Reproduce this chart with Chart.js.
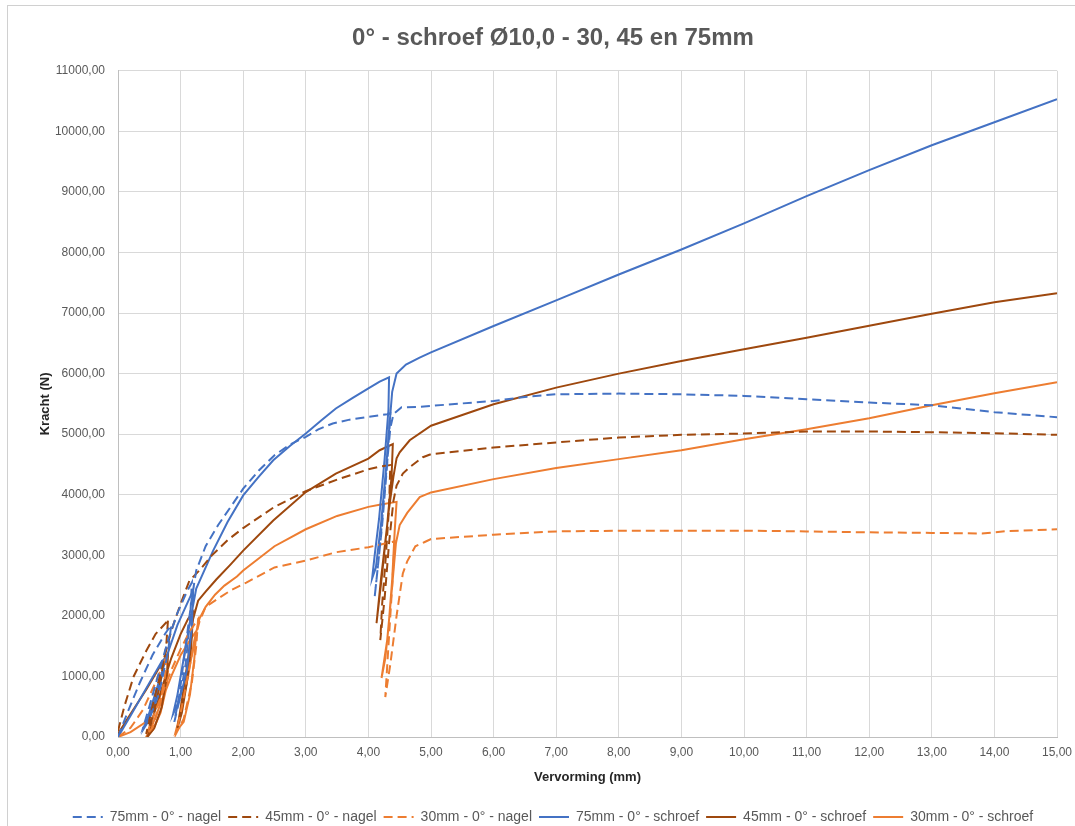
<!DOCTYPE html>
<html>
<head>
<meta charset="utf-8">
<script src="https://cdn.jsdelivr.net/npm/chart.js@4"></script>
<style>
  html, body { margin: 0; padding: 0; background: #fff; overflow: hidden; }
  #frame { position: absolute; left: 7px; top: 5px; width: 1200px; height: 1000px; border: 1px solid #d0d0d0; }
  #wrap { position: absolute; left: 0; top: 0; width: 1075px; height: 838px; }
</style>
</head>
<body>
<div id="frame"></div>
<div id="wrap"><canvas id="grafico"></canvas></div>
<script>
// vervorming (mm) / kracht (N)
const nagel75X = [0, 0.15, 0.35, 0.55, 0.75, 0.85, 0.8, 0.65, 0.5, 0.4, 0.5, 0.65, 0.8, 0.95, 1.1, 1.18, 1.15, 1.08, 0.98, 0.9, 0.98, 1.08, 1.18, 1.25, 1.4, 1.6, 1.8, 2.0, 2.25, 2.5, 2.75, 3.0, 3.2, 3.43, 3.7, 4.0, 4.3, 4.35, 4.3, 4.22, 4.14, 4.1, 4.18, 4.27, 4.35, 4.4, 4.53, 4.8, 5, 6, 6.5, 7, 8, 9, 10, 11, 12, 13, 14, 15];
const nagel75Y = [0, 400, 900, 1350, 1700, 1850, 1400, 700, 300, 150, 500, 1050, 1600, 2050, 2400, 2550, 1900, 1200, 600, 250, 700, 1500, 2300, 2750, 3150, 3500, 3800, 4100, 4400, 4652, 4830, 4956, 5080, 5177, 5240, 5287, 5330, 5346, 4500, 3500, 2700, 2310, 3100, 4200, 5100, 5330, 5445, 5450, 5467, 5549, 5615, 5659, 5670, 5659, 5632, 5577, 5522, 5478, 5363, 5280];

const nagel45X = [0, 0.1, 0.25, 0.45, 0.6, 0.77, 0.8, 0.77, 0.66, 0.54, 0.45, 0.55, 0.7, 0.85, 1.0, 1.14, 1.3, 1.5, 1.75, 2, 2.5, 3, 3.5, 4, 4.2, 4.35, 4.33, 4.28, 4.22, 4.19, 4.26, 4.33, 4.4, 4.45, 4.55, 4.66, 4.87, 5, 6, 7, 8, 9, 10, 11, 12, 13, 14, 15];
const nagel45Y = [100, 500, 1000, 1420, 1700, 1890, 1950, 1500, 800, 300, 50, 500, 1150, 1750, 2200, 2580, 2750, 3000, 3250, 3450, 3800, 4060, 4250, 4420, 4470, 4490, 3800, 3000, 2200, 1600, 2300, 3200, 3900, 4150, 4350, 4455, 4620, 4670, 4780, 4863, 4945, 4989, 5011, 5044, 5044, 5032, 5016, 4990];

const nagel30X = [0, 0.2, 0.4, 0.6, 0.78, 0.75, 0.66, 0.55, 0.45, 0.55, 0.7, 0.85, 1.0, 1.15, 1.28, 1.25, 1.18, 1.05, 0.93, 1.02, 1.15, 1.25, 1.3, 1.4, 1.62, 1.8, 2.05, 2.5, 3, 3.48, 4, 4.2, 4.42, 4.38, 4.32, 4.27, 4.35, 4.45, 4.55, 4.62, 4.75, 4.9, 5, 6, 7, 8, 9, 10, 11, 12, 13, 13.8, 14.2, 15];
const nagel30Y = [0, 150, 450, 900, 1350, 1000, 500, 150, 30, 300, 700, 1100, 1450, 1750, 1950, 1500, 900, 300, 60, 500, 1200, 1700, 1900, 2150, 2300, 2420, 2550, 2800, 2912, 3050, 3133, 3180, 3230, 2500, 1500, 660, 1200, 2000, 2700, 2900, 3150, 3220, 3269, 3340, 3395, 3406, 3406, 3406, 3395, 3379, 3370, 3360, 3400, 3430];

const schroef75X = [0, 0.2, 0.45, 0.7, 0.75, 0.7, 0.58, 0.48, 0.42, 0.5, 0.65, 0.8, 0.95, 1.08, 1.2, 1.18, 1.1, 0.98, 0.88, 0.95, 1.05, 1.15, 1.25, 1.31, 1.52, 1.75, 2.0, 2.25, 2.48, 2.75, 3.0, 3.25, 3.48, 3.75, 4.0, 4.18, 4.33, 4.32, 4.26, 4.17, 4.1, 4.06, 4.12, 4.2, 4.28, 4.34, 4.38, 4.45, 4.6, 4.81, 5, 6, 7, 8, 9, 10, 11, 12, 13, 14, 15];
const schroef75Y = [0, 350, 800, 1250, 1300, 1000, 550, 250, 150, 400, 900, 1400, 1850, 2150, 2420, 1800, 1100, 600, 380, 700, 1300, 1900, 2450, 2590, 3077, 3550, 3989, 4300, 4569, 4810, 5011, 5230, 5425, 5600, 5757, 5867, 5940, 5400, 4600, 3600, 3000, 2620, 2800, 3500, 4400, 5200, 5700, 6000, 6150, 6260, 6350, 6786, 7209, 7637, 8049, 8480, 8930, 9360, 9770, 10150, 10530];

const schroef45X = [0, 0.2, 0.45, 0.65, 0.8, 0.78, 0.7, 0.58, 0.47, 0.55, 0.7, 0.85, 1.0, 1.12, 1.2, 1.17, 1.1, 1.02, 0.95, 1.02, 1.12, 1.2, 1.28, 1.4, 1.57, 1.8, 2.0, 2.48, 3.0, 3.48, 4.0, 4.18, 4.39, 4.37, 4.3, 4.2, 4.13, 4.22, 4.32, 4.4, 4.45, 4.5, 4.66, 5, 6, 7, 8, 9, 10, 11, 12, 13, 14, 15];
const schroef45Y = [50, 380, 780, 1130, 1380, 1000, 500, 150, 0, 300, 800, 1300, 1700, 1950, 2060, 1500, 900, 400, 150, 600, 1300, 1950, 2250, 2400, 2600, 2850, 3077, 3575, 4044, 4348, 4597, 4735, 4835, 4300, 3500, 2600, 1880, 2700, 3700, 4300, 4600, 4700, 4900, 5140, 5495, 5769, 6000, 6209, 6401, 6593, 6790, 6990, 7178, 7326];

const schroef30X = [0, 0.2, 0.45, 0.65, 0.8, 0.77, 0.68, 0.56, 0.45, 0.55, 0.7, 0.85, 1.0, 1.15, 1.25, 1.22, 1.15, 1.05, 0.92, 1.0, 1.12, 1.22, 1.3, 1.4, 1.55, 1.7, 1.9, 2.0, 2.5, 3, 3.5, 4, 4.2, 4.45, 4.42, 4.38, 4.32, 4.27, 4.21, 4.3, 4.38, 4.44, 4.5, 4.62, 4.82, 5, 6, 7, 8, 9, 10, 11, 12, 13, 14, 15];
const schroef30Y = [0, 80, 250, 600, 1100, 800, 400, 120, 0, 200, 600, 1000, 1350, 1600, 1750, 1300, 700, 250, 80, 400, 1000, 1600, 1950, 2150, 2350, 2500, 2650, 2750, 3150, 3430, 3650, 3800, 3840, 3883, 3400, 2600, 1800, 1300, 974, 1600, 2500, 3200, 3500, 3700, 3960, 4038, 4258, 4440, 4588, 4736, 4918, 5082, 5264, 5478, 5676, 5858];

const reeksen = ["75mm - 0° - nagel", "45mm - 0° - nagel", "30mm - 0° - nagel", "75mm - 0° - schroef", "45mm - 0° - schroef", "30mm - 0° - schroef"];

const blauw = "#4472C4";
const bruin = "#9E480E";
const oranje = "#ED7D31";

function punten(xs, ys) {
  return xs.map((x, i) => ({ x: x, y: ys[i] }));
}

function reeks(label, xs, ys, kleur, gestreept) {
  return {
    label: label,
    data: punten(xs, ys),
    borderColor: kleur,
    backgroundColor: kleur,
    borderWidth: 2,
    borderDash: gestreept ? [9, 5] : [],
    showLine: true,
    pointRadius: 0,
    tension: 0,
  };
}

const komma = (v) => v.toFixed(2).replace(".", ",");
const grijs = "#595959";
const rooster = "#d9d9d9";
const letter = "Liberation Sans, Arial, sans-serif";

const ctx = document.getElementById("grafico");

const grafico = new Chart(ctx, {
  type: "scatter",

  data: {
    datasets: [
      reeks(reeksen[0], nagel75X, nagel75Y, blauw, true),
      reeks(reeksen[1], nagel45X, nagel45Y, bruin, true),
      reeks(reeksen[2], nagel30X, nagel30Y, oranje, true),
      reeks(reeksen[3], schroef75X, schroef75Y, blauw, false),
      reeks(reeksen[4], schroef45X, schroef45Y, bruin, false),
      reeks(reeksen[5], schroef30X, schroef30Y, oranje, false),
    ],
  },

  options: {
    responsive: true,
    maintainAspectRatio: false,
    animation: false,

    layout: {
      padding: { left: 49, right: 18, top: 0, bottom: 4 },
    },

    plugins: {
      title: {
        display: true,
        text: "0° - schroef Ø10,0 - 30, 45 en 75mm",
        color: grijs,
        font: { family: letter, size: 24, weight: "bold" },
        padding: { top: 24, bottom: 18 },
      },
      legend: {
        position: "bottom",
        labels: {
          color: grijs,
          font: { family: letter, size: 14 },
          usePointStyle: true,
          pointStyle: "line",
          pointStyleWidth: 30,
          boxHeight: 2,
          padding: 7,
          generateLabels: (chart) => {
            const items = Chart.defaults.plugins.legend.labels.generateLabels(chart);
            items.forEach((item) => {
              const ds = chart.data.datasets[item.datasetIndex];
              item.lineDash = ds.borderDash;
              item.strokeStyle = ds.borderColor;
              item.lineWidth = 2;
            });
            return items;
          },
        },
      },
      tooltip: { enabled: false },
    },

    scales: {
      x: {
        type: "linear",
        min: 0,
        max: 15,
        title: {
          display: true,
          text: "Vervorming (mm)",
          color: "#262626",
          font: { family: letter, size: 13, weight: "bold" },
          padding: { top: 2, bottom: 18 },
        },
        ticks: {
          stepSize: 1,
          color: grijs,
          font: { family: letter, size: 12 },
          padding: 8,
          callback: (v) => komma(v),
        },
        grid: { color: rooster, drawTicks: false },
        border: { color: "#bfbfbf" },
        afterFit: (schaal) => {
          schaal.paddingLeft = 0;
          schaal.paddingRight = 0;
        },
      },

      y: {
        min: 0,
        max: 11000,
        title: {
          display: true,
          text: "Kracht (N)",
          color: "#262626",
          font: { family: letter, size: 13, weight: "bold" },
          padding: { top: -11, bottom: 0 },
        },
        ticks: {
          stepSize: 1000,
          color: grijs,
          font: { family: letter, size: 12 },
          padding: 13,
          callback: (v) => komma(v),
        },
        grid: { color: rooster, drawTicks: false },
        border: { color: "#bfbfbf" },
        afterFit: (schaal) => {
          schaal.width = 69;
        },
      },
    },
  },
});
</script>
</body>
</html>
